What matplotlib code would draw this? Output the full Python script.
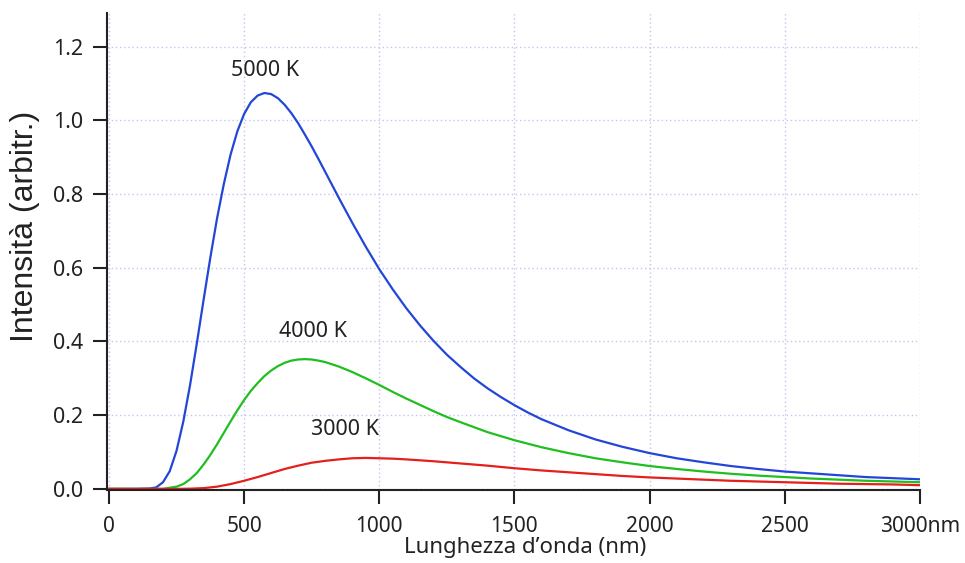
import matplotlib
matplotlib.use("Agg")
import matplotlib.pyplot as plt

# values
wl_5000 = [0, 100, 150, 175, 200, 225, 250, 275, 300, 325, 350, 375, 400, 425, 450, 475,
           500, 525, 550, 575, 600, 625, 650, 675, 700, 725, 750, 775, 800, 850, 900, 950,
           1000, 1050, 1100, 1150, 1200, 1250, 1300, 1350, 1400, 1450, 1500, 1550, 1600,
           1700, 1800, 1900, 2000, 2100, 2200, 2300, 2400, 2500, 2600, 2700, 2800, 2900, 3000]
I_5000 = [0, 0, 0.001, 0.004, 0.018, 0.048, 0.103, 0.182, 0.281, 0.394, 0.512, 0.627, 0.734,
          0.827, 0.907, 0.970, 1.017, 1.049, 1.067, 1.074, 1.071, 1.060, 1.042, 1.019, 0.992,
          0.961, 0.929, 0.895, 0.860, 0.790, 0.722, 0.657, 0.596, 0.541, 0.490, 0.444, 0.402,
          0.364, 0.331, 0.300, 0.273, 0.249, 0.227, 0.207, 0.189, 0.159, 0.134, 0.114, 0.097,
          0.083, 0.072, 0.062, 0.054, 0.047, 0.042, 0.037, 0.032, 0.029, 0.026]

wl_4000 = [0, 200, 250, 275, 300, 325, 350, 375, 400, 425, 450, 475, 500, 525, 550, 575, 600,
           625, 650, 675, 700, 725, 750, 775, 800, 850, 900, 950, 1000, 1050, 1100, 1150, 1200,
           1250, 1300, 1400, 1500, 1600, 1700, 1800, 1900, 2000, 2100, 2200, 2300, 2400, 2500,
           2600, 2700, 2800, 2900, 3000]
I_4000 = [0, 0, 0.006, 0.013, 0.026, 0.043, 0.066, 0.092, 0.121, 0.152, 0.183, 0.213, 0.241,
          0.266, 0.287, 0.306, 0.321, 0.333, 0.342, 0.348, 0.351, 0.352, 0.351, 0.348, 0.344,
          0.332, 0.317, 0.300, 0.282, 0.263, 0.245, 0.228, 0.211, 0.195, 0.181, 0.154, 0.132,
          0.113, 0.097, 0.083, 0.072, 0.062, 0.054, 0.047, 0.041, 0.036, 0.032, 0.028, 0.025,
          0.022, 0.020, 0.018]

wl_3000 = [0, 250, 300, 350, 400, 450, 500, 550, 600, 650, 700, 750, 800, 850, 900, 950, 1000,
           1050, 1100, 1200, 1300, 1400, 1500, 1600, 1700, 1800, 1900, 2000, 2100, 2200, 2300,
           2400, 2500, 2600, 2700, 2800, 2900, 3000]
I_3000 = [0, 0, 0.0005, 0.002, 0.006, 0.013, 0.022, 0.032, 0.043, 0.054, 0.063, 0.071, 0.076,
          0.080, 0.083, 0.084, 0.083, 0.082, 0.080, 0.075, 0.069, 0.063, 0.056, 0.050, 0.045,
          0.040, 0.035, 0.031, 0.028, 0.025, 0.022, 0.020, 0.018, 0.016, 0.014, 0.013, 0.012,
          0.010]

labels = ["5000 K", "4000 K", "3000 K"]
label_pos = [(577, 1.134), (754, 0.427), (873, 0.161)]

xticks = [0, 500, 1000, 1500, 2000, 2500, 3000]
xticklabels = ["0", "500", "1000", "1500", "2000", "2500", "3000nm"]
yticks = [0.0, 0.2, 0.4, 0.6, 0.8, 1.0, 1.2]

font = "Noto Sans"
ink = "#222222"

fig = plt.figure(figsize=(9.65, 5.63), dpi=100)
ax = fig.add_axes([0.1109, 0.1297, 0.8425, 0.8472])

ax.plot(wl_5000, I_5000, color="#2346d8", lw=1.6)
ax.plot(wl_4000, I_4000, color="#1fbf1f", lw=1.6)
ax.plot(wl_3000, I_3000, color="#e3201c", lw=1.6)

for txt, (x, y) in zip(labels, label_pos):
    ax.text(x, y, txt, ha="center", va="center", fontsize=15.5, family=font, color=ink)

ax.set_xlim(-7, 3000)
ax.set_ylim(-0.003, 1.291)
ax.set_xticks(xticks)
ax.set_yticks(yticks)
ax.set_xticklabels(xticklabels, family=font, fontsize=15, color=ink)
ax.set_yticklabels(["%.1f" % t for t in yticks], family=font, fontsize=15.5, color=ink)

ax.grid(True, color="#c4c4f0", linestyle=(0, (1, 2)), linewidth=1)
ax.set_axisbelow(True)

for s in ["top", "right"]:
    ax.spines[s].set_visible(False)
for s in ["left", "bottom"]:
    ax.spines[s].set_linewidth(1.5)
    ax.spines[s].set_color(ink)
ax.tick_params(axis="both", direction="out", length=10, width=1.5, color=ink)
ax.tick_params(axis="y", pad=7)
ax.tick_params(axis="x", pad=9)

ax.set_xlabel("Lunghezza d’onda (nm)", family=font, fontsize=16, color=ink)
ax.xaxis.set_label_coords(0.514, -0.098)
ax.set_ylabel("Intensità (arbitr.)", family="Liberation Sans", fontsize=23, color=ink)
ax.yaxis.set_label_coords(-0.082, 0.553)

fig.savefig("out.png", dpi=100)
